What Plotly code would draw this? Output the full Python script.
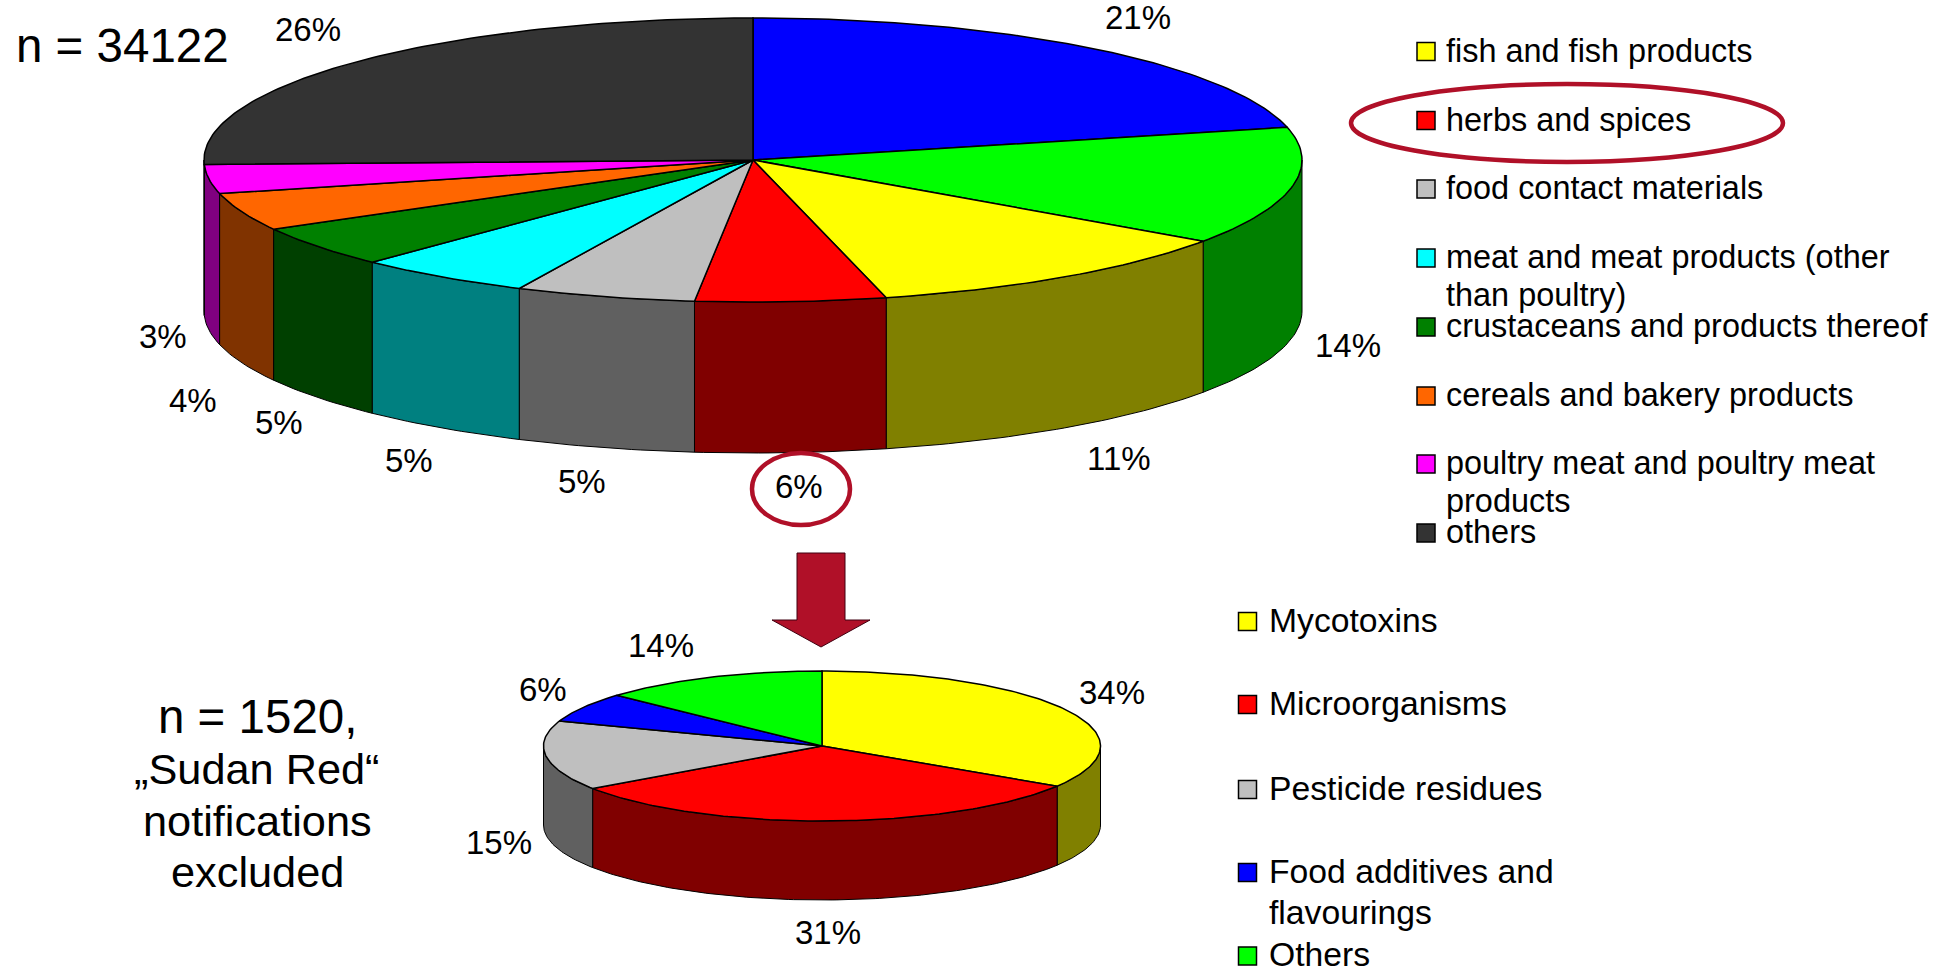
import math
import plotly.graph_objects as go

# ---- data ----
main_categories = ["not shown 1", "not shown 2", "fish and fish products", "herbs and spices",
                   "food contact materials", "meat and meat products (other<br>than poultry)",
                   "crustaceans and products thereof", "cereals and bakery products",
                   "poultry meat and poultry meat<br>products", "others"]
main_values = [21.3, 13.4, 11.4, 5.6, 5.3, 5.2, 4.7, 4.3, 3.3, 25.5]
main_labels = ["21%", "14%", "11%", "6%", "5%", "5%", "5%", "4%", "3%", "26%"]

sub_categories = ["Mycotoxins", "Microorganisms", "Pesticide residues",
                  "Food additives and<br>flavourings", "Others"]
sub_values = [34.0, 31.4, 15.0, 6.4, 13.2]
sub_labels = ["34%", "31%", "15%", "6%", "14%"]

# ---- styles and layout ----
main_top = ["#0000FF", "#00FF00", "#FFFF00", "#FF0000", "#BFBFBF", "#00FFFF", "#008000", "#FF6600", "#FF00FF", "#333333"]
main_side = ["#000080", "#008000", "#808000", "#800000", "#606060", "#008080", "#004000", "#803300", "#800080", "#1A1A1A"]
sub_top = ["#FFFF00", "#FF0000", "#BFBFBF", "#0000FF", "#00FF00"]
sub_side = ["#808000", "#800000", "#606060", "#000080", "#008000"]

main_geom = dict(cx=753, cy=160, rx=549, ry=142, depth=151)
sub_geom = dict(cx=822, cy=746, rx=278.5, ry=75, depth=79)

main_label_pos = [(1138, 17), (1348, 345), (1119, 458), (799, 486), (582, 481),
                  (409, 460), (279, 422), (193, 400), (163, 336), (308, 29)]
sub_label_pos = [(1112, 692), (828, 932), (499, 842), (543, 689), (661, 645)]

main_legend_rows = [None, None, 51.5, 120.5, 189, 258, 327, 396, 464, 533]
sub_legend_rows = [621.5, 704.5, 789.5, 872.5, 956]

FONT = "Liberation Sans"
ACCENT = "#B01028"
W, H = 1935, 969

fig = go.Figure()


def pt(g, t):
    return g["cx"] + g["rx"] * math.sin(t), g["cy"] - g["ry"] * math.cos(t)


def arc(g, a, b):
    n = max(2, int(abs(b - a) / math.radians(1)) + 2)
    return [pt(g, a + (b - a) * i / (n - 1)) for i in range(n)]


def poly(points, color, lw=1.2):
    xs = [p[0] for p in points] + [points[0][0]]
    ys = [p[1] for p in points] + [points[0][1]]
    fig.add_trace(go.Scatter(x=xs, y=ys, mode="lines", fill="toself", fillcolor=color,
                             line=dict(color="#000000", width=lw), hoverinfo="skip", showlegend=False))


def pie3d(values, tops, sides, g):
    total = sum(values)
    edges = [0.0]
    for v in values:
        edges.append(edges[-1] + v / total * 2 * math.pi)
    # visible rim: the front half of the cylinder
    for i in range(len(values)):
        a = max(edges[i], math.pi / 2)
        b = min(edges[i + 1], 3 * math.pi / 2)
        if b > a:
            upper = arc(g, a, b)
            lower = [(x, y + g["depth"]) for x, y in reversed(upper)]
            poly(upper + lower, sides[i], 1)
    # top face
    for i in range(len(values)):
        poly([(g["cx"], g["cy"])] + arc(g, edges[i], edges[i + 1]), tops[i], 1.5)


pie3d(main_values, main_top, main_side, main_geom)
pie3d(sub_values, sub_top, sub_side, sub_geom)

annotations = []


def text(x, y, s, size, anchor="center"):
    annotations.append(dict(x=x, y=y, xref="x", yref="y", text=s, showarrow=False,
                            xanchor=anchor, yanchor="middle", align=anchor,
                            font=dict(family=FONT, size=size, color="#000000")))


for s, (x, y) in zip(main_labels, main_label_pos):
    text(x, y, s, 33)
for s, (x, y) in zip(sub_labels, sub_label_pos):
    text(x, y, s, 33)


def legend(cats, rows, colors, sq_x, txt_x, size, gap, dy):
    for c, r, col in zip(cats, rows, colors):
        if r is None:
            continue
        fig.add_trace(go.Scatter(x=[sq_x], y=[r], mode="markers", hoverinfo="skip", showlegend=False,
                                 marker=dict(symbol="square", size=18, color=col,
                                             line=dict(color="#000000", width=1.5))))
        for i, line in enumerate(c.split("<br>")):
            text(txt_x, r + dy + gap * i, line, size, "left")


legend(main_categories, main_legend_rows, main_top, 1426, 1444, 32.45, 38, -0.7)
legend(sub_categories, sub_legend_rows, sub_top, 1247.5, 1266.5, 33.7, 41, -2)

text(122, 45, "n = 34122", 47.5)
text(257, 716, "n = 1520,", 47.5)
for y, s in zip([769, 821, 872], ["„Sudan Red“", "notifications", "excluded"]):
    text(257, y, s, 43.3)

shapes = [
    dict(type="circle", xref="x", yref="y", x0=1351, x1=1783, y0=84, y1=162,
         line=dict(color=ACCENT, width=4.5)),
    dict(type="circle", xref="x", yref="y", x0=752, x1=850, y0=453, y1=525,
         line=dict(color=ACCENT, width=4.5)),
    dict(type="path", xref="x", yref="y",
         path="M 797 553 L 845 553 L 845 620 L 870 620 L 821 647 L 772 620 L 797 620 Z",
         fillcolor=ACCENT, line=dict(color="#400010", width=1)),
]

fig.update_layout(
    width=W, height=H, margin=dict(l=0, r=0, t=0, b=0), paper_bgcolor="#FFFFFF", plot_bgcolor="#FFFFFF",
    xaxis=dict(range=[0, W], visible=False, fixedrange=True),
    yaxis=dict(range=[H, 0], visible=False, fixedrange=True),
    annotations=annotations, shapes=shapes, showlegend=False,
)

fig.write_html("out.html", config=dict(displayModeBar=False),
               post_script="document.body.style.margin='0';document.body.style.overflow='hidden';")
